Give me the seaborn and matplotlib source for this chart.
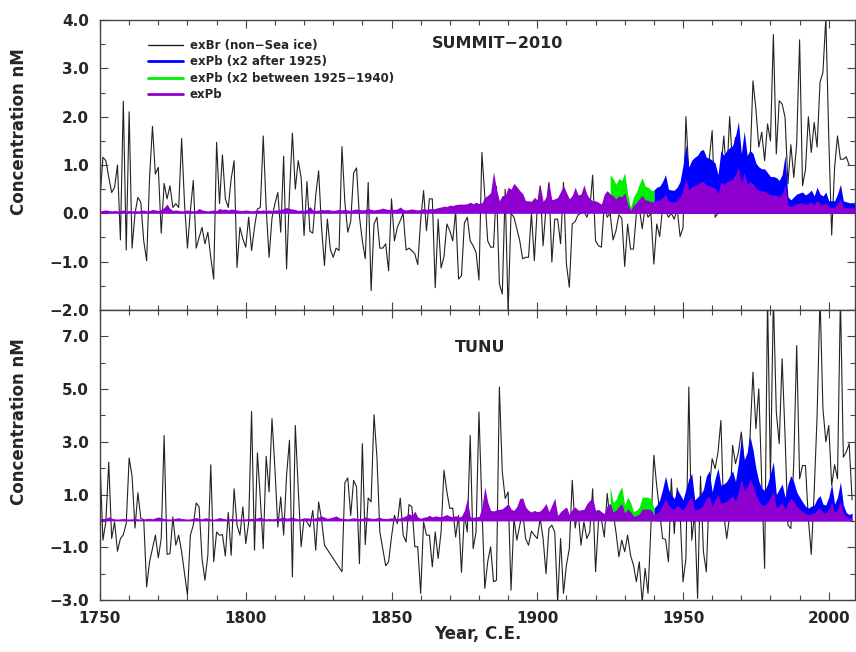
import numpy as np
import pandas as pd
import matplotlib
matplotlib.use("Agg")
import matplotlib.pyplot as plt
import seaborn as sns
from matplotlib.lines import Line2D
from matplotlib.ticker import MultipleLocator, FixedLocator, FuncFormatter

sns.set_theme(style="ticks")
plt.rcParams['font.family'] = ['DejaVu Sans']
plt.rcParams['font.weight'] = 'bold'
plt.rcParams['axes.unicode_minus'] = True

START_YEAR = 1750

# ---------------- SUMMIT-2010 ----------------
SUMMIT_BR = [
    0.30, 1.16, 1.09, 0.75, 0.43, 0.54, 1.00, -0.55, 2.32, -0.76,
    2.10, -0.72, 0.00, 0.33, 0.23, -0.57, -0.98, 0.74, 1.80, 0.81,
    0.95, -0.41, 0.62, 0.30, 0.57, 0.12, 0.20, 0.12, 1.55, 0.20,
    -0.72, 0.05, 0.68, -0.72, -0.50, -0.29, -0.63, -0.39, -0.91, -1.36,
    1.47, 0.20, 1.21, 0.30, 0.12, 0.71, 1.09, -1.12, -0.29, -0.53,
    -0.70, -0.08, -0.77, -0.29, 0.09, 0.12, 1.60, 0.12, -0.91, -0.10,
    0.20, 0.43, -0.39, 1.18, -1.15, 0.40, 1.66, 0.50, 1.09, 0.74,
    -0.46, 0.66, -0.37, -0.41, 0.37, 0.88, -0.29, -1.08, -0.12, -0.74,
    -0.91, -0.72, -0.77, 1.38, 0.23, -0.39, -0.17, 0.83, 0.94, -0.07,
    -0.57, -0.94, 0.64, -1.60, -0.22, -0.08, -0.72, -0.72, -0.63, -1.19,
    0.30, -0.57, -0.29, -0.15, 0.00, -0.76, -0.72, -0.77, -0.84, -1.06,
    -0.15, 0.47, -0.36, 0.30, 0.30, -1.54, -0.12, -1.13, -0.90, -0.22,
    -0.36, -0.57, 0.05, -1.36, -1.29, -0.20, -0.08, -0.57, -0.67, -0.81,
    -1.38, 1.26, 0.37, -0.57, -0.70, -0.70, 0.56, -1.46, -1.67, 0.50,
    -2.05, 0.00, -0.08, -0.32, -0.57, -0.94, -0.91, -0.91, 0.00, -0.98,
    0.12, 0.57, -0.67, 0.12, 0.64, -1.01, -0.12, -0.12, -0.63, 0.64,
    -1.05, -1.53, -0.22, -0.17, -0.03, 0.00, 0.05, -0.08, 0.07, 0.79,
    -0.57, -0.67, -0.70, 0.19, -0.08, 0.00, -0.55, -0.36, -0.03, -0.10,
    -1.10, -0.22, -0.74, -0.74, 0.00, 0.12, -0.32, 0.12, -0.08, 0.00,
    -1.05, -0.22, -0.48, 0.12, 0.05, -0.08, 0.00, -0.12, 0.10, -0.48,
    -0.30, 2.00, 0.81, 0.90, 0.92, 1.16, 1.10, 0.95, 1.12, 1.12,
    1.71, -0.08, 0.00, 0.92, 1.60, 0.74, 2.00, 0.99, 1.57, 1.09,
    0.95, 0.60, 0.92, 1.05, 2.74, 2.16, 1.37, 1.68, 1.09, 1.85,
    1.50, 3.70, 1.23, 2.33, 2.26, 1.99, 0.61, 1.42, 0.74, 1.45,
    3.59, 0.57, 0.90, 2.00, 1.26, 1.88, 1.37, 2.71, 2.92, 4.05,
    1.57, -0.45, 0.95, 1.60, 1.12, 1.12, 1.17, 1.00,
]

SUMMIT_PB = [
    0.05, 0.06, 0.07, 0.06, 0.05, 0.06, 0.05, 0.06, 0.07, 0.05,
    0.06, 0.05, 0.06, 0.05, 0.06, 0.07, 0.05, 0.06, 0.08, 0.07,
    0.06, 0.08, 0.12, 0.19, 0.10, 0.06, 0.07, 0.06, 0.05, 0.06,
    0.07, 0.06, 0.05, 0.06, 0.10, 0.07, 0.06, 0.05, 0.06, 0.07,
    0.06, 0.10, 0.08, 0.09, 0.07, 0.09, 0.08, 0.07, 0.06, 0.06,
    0.07, 0.06, 0.05, 0.06, 0.07, 0.06, 0.07, 0.06, 0.07, 0.06,
    0.07, 0.07, 0.08, 0.10, 0.12, 0.10, 0.09, 0.08, 0.06, 0.07,
    0.06, 0.08, 0.14, 0.07, 0.06, 0.07, 0.08, 0.07, 0.08, 0.07,
    0.06, 0.07, 0.08, 0.07, 0.09, 0.07, 0.06, 0.08, 0.09, 0.08,
    0.07, 0.08, 0.10, 0.08, 0.07, 0.08, 0.09, 0.11, 0.09, 0.08,
    0.09, 0.08, 0.09, 0.13, 0.08, 0.07, 0.08, 0.09, 0.08, 0.07,
    0.08, 0.10, 0.08, 0.10, 0.09, 0.10, 0.12, 0.13, 0.15, 0.14,
    0.17, 0.16, 0.18, 0.19, 0.19, 0.19, 0.20, 0.23, 0.20, 0.23,
    0.20, 0.22, 0.33, 0.37, 0.43, 0.86, 0.50, 0.26, 0.37, 0.37,
    0.54, 0.50, 0.62, 0.55, 0.47, 0.41, 0.26, 0.26, 0.25, 0.33,
    0.28, 0.57, 0.25, 0.33, 0.63, 0.28, 0.30, 0.33, 0.45, 0.57,
    0.43, 0.30, 0.37, 0.54, 0.38, 0.40, 0.59, 0.40, 0.30, 0.26,
    0.26, 0.23, 0.19, 0.40, 0.47, 0.40, 0.36, 0.30, 0.36, 0.34,
    0.42, 0.20, 0.06, 0.17, 0.22, 0.30, 0.37, 0.28, 0.27, 0.24,
    0.24, 0.27, 0.28, 0.33, 0.40, 0.25, 0.24, 0.24, 0.27, 0.33,
    0.50, 0.71, 0.48, 0.55, 0.58, 0.60, 0.65, 0.66, 0.58, 0.57,
    0.55, 0.52, 0.40, 0.65, 0.60, 0.65, 0.68, 0.70, 0.80, 0.95,
    0.62, 0.85, 0.60, 0.65, 0.62, 0.52, 0.48, 0.46, 0.46, 0.42,
    0.38, 0.38, 0.37, 0.34, 0.40, 0.60, 0.17, 0.14, 0.17, 0.20,
    0.21, 0.22, 0.19, 0.21, 0.24, 0.18, 0.27, 0.20, 0.18, 0.22,
    0.13, 0.13, 0.13, 0.20, 0.30, 0.13, 0.12, 0.11, 0.11, 0.11,
]

# ---------------- TUNU ----------------
TUNU_BR = [
    2.30, -0.73, -0.04, 2.23, -0.67, -0.04, -1.15, -0.67, -0.52, -0.10,
    2.39, 1.70, -0.27, 1.07, 0.09, 0.05, -2.50, -1.55, -1.05, -0.54,
    -1.40, -0.67, 3.24, -1.27, -1.24, 0.15, -0.92, -0.54, -1.17, -2.00,
    -2.82, -0.54, -0.16, 0.68, 0.53, -1.43, -2.25, -1.30, 2.13, -1.55,
    -0.42, -0.54, -0.52, -1.33, 0.32, -1.30, 1.22, -0.16, -0.54, 0.53,
    -0.86, -0.06, 4.15, -1.11, 2.58, 0.85, -1.05, 2.45, 1.10, 3.88,
    2.00, -0.23, 0.91, -0.54, 1.73, 3.06, -2.12, 3.62, 1.22, -0.98,
    0.09, -0.04, -0.23, 0.40, -1.11, 0.72, 0.05, -0.92, np.nan, np.nan,
    np.nan, np.nan, np.nan, -1.93, 1.45, 1.63, 0.21, 1.54, 1.29, -1.62,
    2.93, -0.90, 0.87, 0.72, 4.03, 2.42, -0.42, -1.05, -1.70, -1.55,
    -0.61, 0.21, -0.10, 0.87, -0.54, -0.80, 0.62, 0.53, -0.98, -0.98,
    -2.75, -0.04, -0.54, -0.54, -1.74, -0.42, -1.43, -0.42, 1.92, 1.10,
    0.47, 0.49, -0.61, 0.21, -1.95, 0.25, -0.42, 3.24, -1.05, -0.42,
    4.13, 0.59, -2.56, -1.55, -0.98, -2.31, -2.25, 5.08, 1.86, 0.85,
    1.10, -2.63, 0.09, -0.73, -0.16, 0.34, -0.67, -0.92, -0.39, -0.54,
    -0.67, 0.10, -0.67, -2.00, -0.29, -0.16, -0.42, -3.10, -0.67, -2.75,
    -1.68, -1.05, 1.54, -0.27, 0.40, -0.92, -0.04, -0.67, -0.42, 1.22,
    -1.93, 0.00, 0.06, -0.61, 1.04, 0.00, 0.34, -0.42, -1.36, -0.73,
    -1.17, -0.54, -1.30, -1.68, -2.31, -1.55, -3.10, -1.80, -2.75, -0.20,
    2.49, 1.30, 0.34, -0.67, -0.70, -1.55, 1.60, -0.48, 1.25, 0.30,
    -2.31, -1.43, 5.08, -0.73, 0.28, -2.94, 1.70, -1.17, -1.93, 1.16,
    2.36, 1.98, 2.60, 3.81, 0.21, -0.67, 0.21, 2.87, 2.17, 2.60,
    3.37, 2.23, 1.79, 3.24, 5.64, 3.50, 5.01, 1.48, -1.80, 8.50,
    1.60, 8.50, 4.13, 2.93, 6.15, 3.24, -0.16, -0.29, 2.23, 6.65,
    1.60, 2.10, 2.10, 0.09, -1.27, 1.10, 4.00, 8.50, 4.26, 3.00,
    3.62, 1.35, 2.13, 1.60, 8.50, 2.42, 2.61, 2.93, 0.80,
]

TUNU_PB = [
    0.08, 0.09, 0.10, 0.15, 0.10, 0.08, 0.07, 0.08, 0.09, 0.08,
    0.07, 0.08, 0.09, 0.08, 0.07, 0.08, 0.09, 0.10, 0.08, 0.12,
    0.15, 0.12, 0.09, 0.08, 0.07, 0.08, 0.10, 0.12, 0.09, 0.08,
    0.07, 0.08, 0.10, 0.13, 0.09, 0.08, 0.12, 0.10, 0.08, 0.07,
    0.09, 0.13, 0.10, 0.08, 0.07, 0.10, 0.08, 0.07, 0.08, 0.07,
    0.08, 0.09, 0.10, 0.08, 0.12, 0.14, 0.10, 0.08, 0.09, 0.08,
    0.09, 0.10, 0.12, 0.15, 0.10, 0.12, 0.15, 0.10, 0.08, 0.09,
    0.10, 0.12, 0.10, 0.09, 0.12, 0.15, 0.19, 0.14, 0.10, 0.12,
    0.15, 0.19, 0.12, 0.10, 0.09, 0.08, 0.10, 0.12, 0.10, 0.09,
    0.10, 0.15, 0.12, 0.10, 0.09, 0.12, 0.13, 0.10, 0.09, 0.10,
    0.12, 0.10, 0.09, 0.12, 0.15, 0.20, 0.28, 0.20, 0.37, 0.15,
    0.10, 0.14, 0.16, 0.21, 0.15, 0.19, 0.17, 0.16, 0.20, 0.24,
    0.18, 0.16, 0.20, 0.15, 0.18, 0.40, 0.85, 0.15, 0.14, 0.15,
    0.17, 0.50, 1.29, 0.72, 0.40, 0.38, 0.42, 0.44, 0.46, 0.55,
    0.66, 0.45, 0.40, 0.55, 0.85, 0.87, 0.53, 0.40, 0.34, 0.40,
    0.35, 0.38, 0.50, 0.66, 0.35, 0.60, 0.87, 0.21, 0.35, 0.45,
    0.53, 0.25, 0.45, 0.53, 0.40, 0.42, 0.44, 0.65, 0.78, 0.87,
    0.40, 0.44, 0.35, 0.28, 0.59, 0.66, 0.35, 0.40, 0.55, 0.65,
    0.30, 0.45, 0.35, 0.18, 0.20, 0.26, 0.45, 0.45, 0.45, 0.42,
    0.24, 0.30, 0.40, 0.60, 0.85, 0.60, 0.50, 0.42, 0.60, 0.50,
    0.40, 0.60, 0.80, 0.90, 0.40, 0.45, 0.50, 0.60, 0.85, 0.95,
    0.55, 0.80, 1.00, 0.68, 0.70, 0.75, 0.85, 0.95, 0.75, 1.10,
    1.60, 1.15, 1.30, 1.60, 1.35, 1.00, 0.75, 0.62, 0.58, 0.70,
    0.90, 1.12, 0.50, 0.60, 0.70, 0.45, 0.70, 0.86, 0.74, 0.55,
    0.45, 0.36, 0.28, 0.24, 0.28, 0.30, 0.42, 0.48, 0.32, 0.30,
    0.45, 0.70, 0.32, 0.45, 0.74, 0.30, 0.16, 0.12, 0.15,
]

PB_FACTOR = 2.0           # "x2" scaling stated in the legend
GREEN_START, GREEN_END = 1925, 1940
BLUE_START = 1940

LEGEND_LABELS = ["exBr (non\u2212Sea ice)", "exPb (x2 after 1925)",
                 "exPb (x2 between 1925\u22121940)", "exPb"]

BLACK = "#222222"
BLUE = "#0000FF"
GREEN = "#00EE00"
PURPLE = "#8E00D0"
SPINE = "#444444"

W, H = 856, 652
fig = plt.figure(figsize=(W / 100, H / 100), dpi=100)
fig.patch.set_facecolor("white")
ax_top = fig.add_axes([100 / W, 1 - 310 / H, 755 / W, 290 / H])
ax_bot = fig.add_axes([100 / W, 1 - 600 / H, 755 / W, 290 / H])


def fmt(v, pos):
    return ("%.1f" % v).replace("-", "\u2212")


def draw(ax, br, pb, title, title_xy, ylim, major, minor):
    yrs = START_YEAR + np.arange(len(br))
    df = pd.DataFrame({"year": yrs, "val": br}).dropna()
    sns.lineplot(data=df, x="year", y="val", ax=ax, color=BLACK, lw=0.8,
                 estimator=None, sort=False, zorder=1)
    pyrs = START_YEAR + np.arange(len(pb))
    pb = np.asarray(pb, dtype=float)
    scaled = PB_FACTOR * pb
    mb = pyrs >= BLUE_START
    ax.fill_between(pyrs[mb], 0, scaled[mb], color=BLUE, lw=0, zorder=2)
    mg = (pyrs >= GREEN_START) & (pyrs <= GREEN_END)
    ax.fill_between(pyrs[mg], 0, scaled[mg], color=GREEN, lw=0, zorder=3)
    ax.fill_between(pyrs, 0, pb, color=PURPLE, lw=0, zorder=4)

    ax.set_xlim(1750, 2009)
    ax.set_ylim(*ylim)
    ax.xaxis.set_major_locator(MultipleLocator(50))
    ax.xaxis.set_minor_locator(MultipleLocator(10))
    ax.yaxis.set_major_locator(FixedLocator(major))
    ax.yaxis.set_minor_locator(FixedLocator(minor))
    ax.yaxis.set_major_formatter(FuncFormatter(fmt))
    ax.tick_params(which="both", direction="in", top=True, right=True,
                   color=SPINE, width=0.8, labelsize=11, pad=8)
    ax.tick_params(which="major", length=6)
    ax.tick_params(which="minor", length=3.5)
    for s in ax.spines.values():
        s.set_color(SPINE)
        s.set_linewidth(1.0)
    ax.set_ylabel("Concentration nM", fontsize=12, fontweight="bold")
    ax.yaxis.set_label_coords(-0.095, 0.615)
    ax.text(title_xy[0], title_xy[1], title, transform=ax.transAxes,
            ha="center", va="center", fontsize=11.5, fontweight="bold")


draw(ax_top, SUMMIT_BR, SUMMIT_PB, "SUMMIT\u22122010", (0.526, 0.92),
     (-2, 4), [-2, -1, 0, 1, 2, 3, 4], np.arange(-1.5, 4, 1.0))
draw(ax_bot, TUNU_BR, TUNU_PB, "TUNU", (0.503, 0.872),
     (-3, 8), [-3, -1, 1, 3, 5, 7], [-2, 0, 2, 4, 6])

ax_top.set_xlabel("")
ax_top.tick_params(labelbottom=False)
ax_bot.set_xlabel("Year, C.E.", fontsize=12, fontweight="bold")
ax_bot.xaxis.set_label_coords(0.5, -0.085)

handles = [Line2D([], [], color=BLACK, lw=1.0),
           Line2D([], [], color=BLUE, lw=2.0),
           Line2D([], [], color=GREEN, lw=2.0),
           Line2D([], [], color=PURPLE, lw=2.0)]
ax_top.legend(handles, LEGEND_LABELS, loc="upper left",
              bbox_to_anchor=(0.064, 0.935), frameon=False,
              prop={"size": 8.5, "weight": "bold"}, handlelength=2.9,
              handletextpad=0.6, labelspacing=0.3, borderpad=0,
              borderaxespad=0)

fig.savefig("out.png", dpi=100, facecolor="white")
